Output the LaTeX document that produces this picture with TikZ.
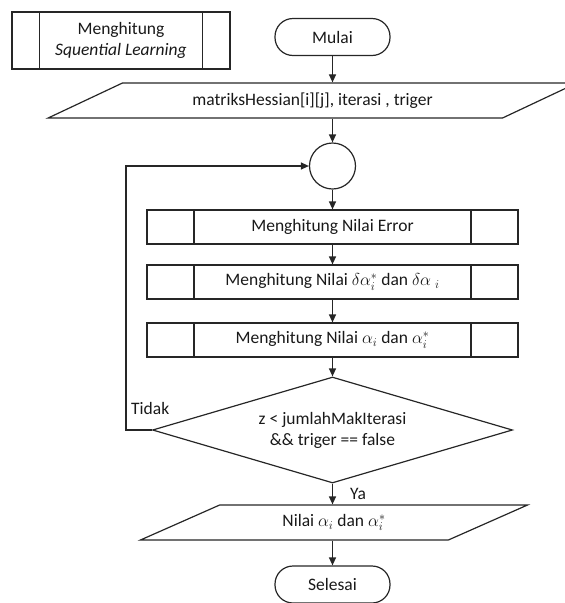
\documentclass[tikz,border=0pt]{standalone}
\usepackage{fontspec}
\setmainfont{Carlito}
\usetikzlibrary{shapes.geometric, arrows.meta, calc}

\begin{document}
\begin{tikzpicture}[x=1pt, y=-1pt,
  every node/.style={font=\fontsize{17.5}{21}\selectfont, text=black!90},
  base/.style={draw=black!85, line width=1.2pt, inner sep=0pt, align=center},
  term/.style={base, rounded corners=18pt, minimum width=115pt, minimum height=37pt},
  subproc/.style={base, minimum height=34pt,
    path picture={
      \draw[black!85, line width=1.2pt]
        ([xshift=#1]path picture bounding box.north west) --
        ([xshift=#1]path picture bounding box.south west)
        ([xshift=-#1]path picture bounding box.north east) --
        ([xshift=-#1]path picture bounding box.south east);}},
  joint/.style={base, circle, minimum size=46pt},
  decision/.style={base, diamond, aspect=3.4, minimum width=360pt, minimum height=106pt},
  data/.style={base, trapezium, trapezium stretches=true,
    trapezium left angle=#1, trapezium right angle=180-#1,
    minimum height=35pt},
  flow/.style={draw=black!85, line width=1.2pt, -{Triangle[length=8pt, width=7pt]}},
  lbl/.style={anchor=west, inner sep=0pt},
]
\useasboundingbox (0,0) rectangle (565,603);

% legend block for the predefined process
\node[subproc=27.5pt, minimum width=218pt, minimum height=57pt] (sub) at (121,40.5)
  {Menghitung\\\itshape Squential Learning};

% main flow
\node[term] (mulai) at (332.5,37) {Mulai};
\node[data=18.43, minimum width=529pt] (input) at (312.5,100.5)
  {matriksHessian[i][j], iterasi , triger};
\node[joint] (joint) at (332.5,166) {};
\node[subproc=47pt, minimum width=371pt] (err) at (332.5,227) {Menghitung Nilai Error};
\node[subproc=47pt, minimum width=371pt] (delta) at (332.5,282)
  {Menghitung Nilai $\delta\alpha_i^*$ dan $\delta\alpha\ _i$};
\node[subproc=47pt, minimum width=371pt] (alpha) at (332.5,340)
  {Menghitung Nilai $\alpha_i$ dan $\alpha_i^*$};
\node[decision] (cond) at (332.5,430)
  {z < jumlahMakIterasi\\\&\& triger == false};
\node[data=24.73, minimum width=388pt] (output) at (334,522.5)
  {Nilai $\alpha_i$ dan $\alpha_i^*$};
\node[term] (selesai) at (332.5,584.5) {Selesai};

\coordinate (back) at (126,430);

% connectors
\draw[flow] (mulai) -- (mulai |- input.north);
\draw[flow] (joint |- input.south) -- (joint);
\draw[flow] (joint) -- (err);
\draw[flow] (err) -- (delta);
\draw[flow] (delta) -- (alpha);
\draw[flow] (alpha) -- (cond);
\draw[flow] (cond) -- (cond |- output.north);
\draw[flow] (cond |- output.south) -- (selesai);
\draw[flow] (cond.west) -- (back) |- (joint.west);

% branch labels
\node[lbl] (tidak) at (131,408) {Tidak};
\node[lbl] (ya) at (350,494) {Ya};
\end{tikzpicture}
\end{document}
